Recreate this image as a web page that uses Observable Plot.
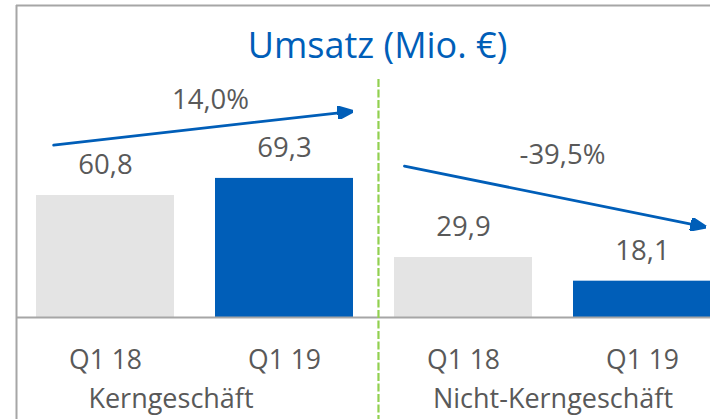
<!DOCTYPE html>
<html>
<head>
<meta charset="utf-8">
<script src="https://cdn.jsdelivr.net/npm/d3@7"></script>
<script src="https://cdn.jsdelivr.net/npm/@observablehq/plot@0.6"></script>
<style>
  html, body { margin: 0; padding: 0; background: #fff; }
  #chart svg { display: block; }
</style>
</head>
<body>
<div id="chart"></div>
<script>
// ---- data ----
const categories = ["Q1 18", "Q1 19", "Q1 18", "Q1 19"];
const segments = ["Kerngeschäft", "Kerngeschäft", "Nicht-Kerngeschäft", "Nicht-Kerngeschäft"];
const values = [60.8, 69.3, 29.9, 18.1];
const valueLabels = ["60,8", "69,3", "29,9", "18,1"];
const periods = ["prev", "curr", "prev", "curr"];
const segmentNames = ["Kerngeschäft", "Nicht-Kerngeschäft"];
const changeLabels = ["14,0%", "-39,5%"];
// annotation arrows (data coordinates: x = bar index, y = Mio. €)
const arrowStartX = [-0.290, 1.670];
const arrowStartY = [85.9, 75.4];
const arrowEndX = [1.367, 3.340];
const arrowEndY = [102.6, 45.3];
const changeLabelX = [0.587, 2.553];
const changeLabelY = [104.1, 76.7];
const dividerX = 1.525;
const title = "Umsatz (Mio. €)";

// ---- derived tables ----
const bars = values.map((v, i) => ({i, v, label: valueLabels[i], cat: categories[i], seg: segments[i], period: periods[i]}));
const arrowPts = [];
arrowStartX.forEach((_, k) => {
  arrowPts.push({k, x: arrowStartX[k], y: arrowStartY[k]});
  arrowPts.push({k, x: arrowEndX[k], y: arrowEndY[k]});
});
const changes = changeLabels.map((t, k) => ({t, x: changeLabelX[k], y: changeLabelY[k]}));

const BLUE = "#005EB8";
const GREY_BAR = "#E4E4E4";
const TEXT = "#595959";
const FRAME = "#A6A6A6";
const GREEN = "#92D050";

const arrowHead = (color) => d3.create("svg:marker")
  .attr("viewBox", "-13 -6.5 16 13")
  .attr("markerUnits", "userSpaceOnUse")
  .attr("markerWidth", 16)
  .attr("markerHeight", 13)
  .attr("refX", 0)
  .attr("refY", 0)
  .attr("orient", "auto")
  .call(m => m.append("path").attr("d", "M-13,-6.5L3,0L-13,6.5Z").attr("fill", color))
  .node();

const xDomain = [-0.4972, 3.3799];
const yMax = 155.45;

const chart = Plot.plot({
  width: 710,
  height: 419,
  marginLeft: 16,
  marginRight: 0,
  marginTop: 5,
  marginBottom: 102,
  style: {fontFamily: "'Open Sans', sans-serif", background: "#fff"},
  x: {type: "linear", domain: xDomain, axis: null},
  y: {domain: [0, yMax], axis: null},
  color: {domain: ["prev", "curr"], range: [GREY_BAR, BLUE]},
  marks: [
    Plot.rectY(bars, {x1: d => d.i - 0.5, x2: d => d.i + 0.5, y: "v", fill: "period", insetLeft: 20.5, insetRight: 20.5}),
    Plot.ruleY([0], {stroke: FRAME, strokeWidth: 2}),
    Plot.ruleY([yMax], {stroke: FRAME, strokeWidth: 2}),
    Plot.ruleX([xDomain[0]], {stroke: FRAME, strokeWidth: 2, insetBottom: -102}),
    Plot.ruleX([dividerX], {stroke: GREEN, strokeWidth: 2.2, strokeDasharray: "8,2.5", insetTop: 74, insetBottom: -102}),
    Plot.text(bars, {x: "i", y: "v", text: "label", lineAnchor: "bottom", dy: -21, fontSize: 27.5, fill: TEXT}),
    Plot.text(bars, {x: "i", y: 0, text: "cat", lineAnchor: "bottom", dy: 51, fontSize: 26.5, fill: TEXT}),
    Plot.text([segmentNames[0]], {x: [0.5], y: [0], text: d => d, lineAnchor: "bottom", dy: 90, dx: -24, fontSize: 27, fill: TEXT}),
    Plot.text([segmentNames[1]], {x: [2.5], y: [0], text: d => d, lineAnchor: "bottom", dy: 90, fontSize: 27, fill: TEXT}),
    Plot.line(arrowPts, {x: "x", y: "y", z: "k", stroke: BLUE, strokeWidth: 2.7, markerEnd: arrowHead}),
    Plot.text(changes, {x: "x", y: "y", text: "t", lineAnchor: "bottom", fontSize: 27.5, fill: TEXT}),
    Plot.text([title], {frameAnchor: "top", text: d => d, lineAnchor: "bottom", dy: 52, dx: 14, fontSize: 36, fill: BLUE})
  ]
});
document.getElementById("chart").appendChild(chart);
</script>
</body>
</html>
